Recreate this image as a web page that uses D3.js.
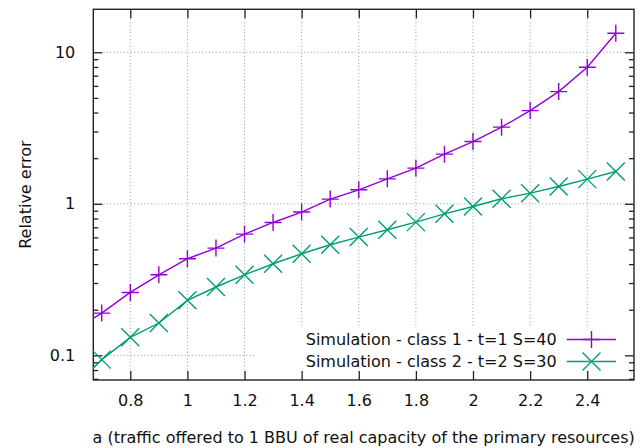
<!DOCTYPE html>
<html><head><meta charset="utf-8">
<script src="https://cdn.jsdelivr.net/npm/d3@7"></script>
<style>body{margin:0;background:#fff}svg{display:block}text{font-family:"DejaVu Sans",sans-serif;fill:#111}</style>
</head><body><svg id="c" width="640" height="448"></svg>
<script>
const xValues = [0.6,0.7,0.8,0.9,1.0,1.1,1.2,1.3,1.4,1.5,1.6,1.7,1.8,1.9,2.0,2.1,2.2,2.3,2.4,2.5];
const class1 = [0.145,0.190,0.260,0.340,0.434,0.510,0.631,0.753,0.882,1.074,1.237,1.461,1.719,2.127,2.576,3.204,4.122,5.50,7.96,13.35];
const class2 = [0.062,0.0937,0.1314,0.1634,0.2306,0.2825,0.340,0.402,0.468,0.537,0.603,0.674,0.757,0.859,0.960,1.079,1.176,1.30,1.455,1.633];
const seriesNames = ["Simulation - class 1 - t=1 S=40","Simulation - class 2 - t=2 S=30"];
const seriesColors = ["#9400d3","#009e73"];
const xTicks = [0.8,1.0,1.2,1.4,1.6,1.8,2.0,2.2,2.4];
const xTickLabels = ["0.8","1","1.2","1.4","1.6","1.8","2","2.2","2.4"];
const yTicks = [0.1,1,10];
const yTickLabels = ["0.1","1","10"];
const yMinor = [0.07,0.08,0.09,0.2,0.3,0.4,0.5,0.6,0.7,0.8,0.9,2,3,4,5,6,7,8,9];
const xLabel = "a (traffic offered to 1 BBU of real capacity of the primary resources)";
const yLabel = "Relative error";

const L=93.3,R=634,T=9.3,B=380,FS=16;
const svg=d3.select("#c");
const x=d3.scaleLinear().domain([0.6705,2.5637]).range([L,R]);
const y=d3.scaleLog().domain([0.06875,19.21]).range([B,T]);

svg.append("defs").append("clipPath").attr("id","clip").append("rect").attr("x",L).attr("y",T).attr("width",R-L).attr("height",B-T);

// grid
const g=svg.append("g").attr("stroke","#999").attr("stroke-width",1).attr("stroke-dasharray","1,2.4");
xTicks.forEach(v=>g.append("line").attr("x1",x(v)).attr("x2",x(v)).attr("y1",B).attr("y2",T));
yTicks.forEach(v=>g.append("line").attr("x1",L).attr("x2",R).attr("y1",y(v)).attr("y2",y(v)));

// legend background
const legX0=256, legY0=328;
svg.append("rect").attr("x",legX0).attr("y",legY0).attr("width",R-legX0-1).attr("height",B-legY0-1).attr("fill","#fff");

// axes with inward ticks
const ax=svg.append("g");
ax.append("g").attr("transform",`translate(0,${B})`).call(d3.axisBottom(x).tickValues(xTicks).tickSize(-9).tickPadding(15).tickFormat((d,i)=>xTickLabels[i]));
ax.append("g").attr("transform",`translate(0,${T})`).call(d3.axisTop(x).tickValues(xTicks).tickSize(-9).tickFormat(""));
ax.append("g").attr("transform",`translate(${L},0)`).call(d3.axisLeft(y).tickValues(yTicks).tickSize(-9).tickPadding(18).tickFormat((d,i)=>yTickLabels[i]));
ax.append("g").attr("transform",`translate(${L},0)`).call(d3.axisLeft(y).tickValues(yMinor).tickSize(-5).tickFormat(""));
ax.append("g").attr("transform",`translate(${R},0)`).call(d3.axisRight(y).tickValues(yTicks).tickSize(-9).tickFormat(""));
ax.append("g").attr("transform",`translate(${R},0)`).call(d3.axisRight(y).tickValues(yMinor).tickSize(-5).tickFormat(""));
ax.selectAll(".domain").remove();
ax.selectAll(".tick line").attr("stroke","#222").attr("stroke-width",1.3);
ax.selectAll(".tick text").attr("font-size",FS).attr("font-family","DejaVu Sans").attr("fill","#111");
svg.append("rect").attr("x",L).attr("y",T).attr("width",R-L).attr("height",B-T).attr("fill","none").attr("stroke","#222").attr("stroke-width",1.4);

// series
const line=d3.line().x((d,i)=>x(xValues[i])).y(d=>y(d));
const sets=[class1,class2];
function marker(sel,k,cx,cy){
  if(k===0){
    const h=8.5;
    sel.append("path").attr("d",`M${cx-h},${cy}H${cx+h}M${cx},${cy-h}V${cy+h}`);
  } else {
    const h=9;
    sel.append("path").attr("d",`M${cx-h},${cy-h}L${cx+h},${cy+h}M${cx-h},${cy+h}L${cx+h},${cy-h}`);
  }
}
sets.forEach((s,k)=>{
  const gg=svg.append("g").attr("stroke",seriesColors[k]).attr("fill","none").attr("stroke-width",1.4);
  gg.append("path").attr("d",line(s)).attr("clip-path","url(#clip)");
  s.forEach((v,i)=>{ if(xValues[i]>=x.domain()[0]) marker(gg,k,x(xValues[i]),y(v)); });
});

// legend
const rows=[339.5,361.5];
seriesNames.forEach((n,k)=>{
  svg.append("text").attr("x",556.7).attr("y",rows[k]).attr("dy","0.36em").attr("text-anchor","end").attr("font-size",FS).text(n);
  const gg=svg.append("g").attr("stroke",seriesColors[k]).attr("fill","none").attr("stroke-width",1.4);
  gg.append("line").attr("x1",566.7).attr("x2",616).attr("y1",rows[k]).attr("y2",rows[k]);
  marker(gg,k,591.5,rows[k]);
});

// axis labels
svg.append("text").attr("x",(L+R)/2).attr("y",437).attr("dy","0.36em").attr("text-anchor","middle").attr("font-size",FS).text(xLabel);
svg.append("text").attr("transform",`translate(25,${(T+B)/2}) rotate(-90)`).attr("dy","0.36em").attr("text-anchor","middle").attr("font-size",FS).text(yLabel);
</script></body></html>
